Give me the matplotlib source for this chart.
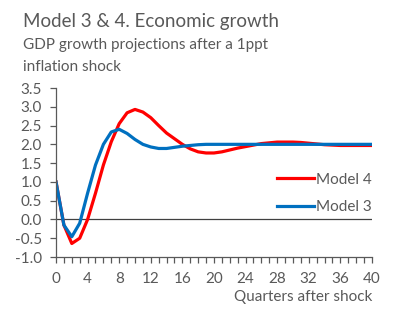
"""Model 3 & 4: GDP growth response to a 1ppt inflation shock."""
import matplotlib
matplotlib.use("Agg")
import matplotlib.pyplot as plt
import numpy as np

quarters = list(range(41))
model3 = [1.0, -0.15, -0.46, -0.1, 0.7, 1.45, 2.0, 2.33, 2.4, 2.29, 2.13,
          2.0, 1.93, 1.89, 1.89, 1.92, 1.95, 1.97, 1.99, 2.0, 2.0,
          2.0, 2.0, 2.0, 2.0, 2.0, 2.0, 2.0, 2.0, 2.0, 2.0,
          2.0, 2.0, 2.0, 2.0, 2.0, 2.0, 2.0, 2.0, 2.0, 2.0]
model4 = [1.0, -0.15, -0.64, -0.5, 0.0, 0.7, 1.45, 2.07, 2.55, 2.84, 2.93,
          2.86, 2.71, 2.5, 2.3, 2.15, 2.0, 1.88, 1.8, 1.77, 1.77,
          1.8, 1.85, 1.9, 1.94, 1.98, 2.02, 2.04, 2.06, 2.06, 2.06,
          2.05, 2.03, 2.01, 1.99, 1.98, 1.97, 1.97, 1.97, 1.97, 1.97]
yticks = np.arange(-1.0, 3.51, 0.5)
xticks = list(range(0, 41, 4))

GREY = "#595959"
plt.rcParams["font.family"] = ["Lato", "DejaVu Sans"]

fig = plt.figure(figsize=(4.05, 3.25), dpi=100)
ax = fig.add_axes([0.1383, 0.2092, 0.78, 0.52])

ax.plot(quarters, model4, color="#FF0000", lw=2.3, label="Model 4", solid_joinstyle="round")
ax.plot(quarters, model3, color="#0070C0", lw=2.3, label="Model 3", solid_joinstyle="round")
ax.axhline(0, color="#404040", lw=0.9, zorder=1)

ax.set_xlim(0, 40); ax.set_ylim(-1.0, 3.5)
ax.set_yticks(yticks)
ax.set_yticklabels([f"{v:.1f}" for v in yticks])
ax.set_xticks(xticks)
ax.set_xticks(range(41), minor=True)
for s in ["top", "right"]:
    ax.spines[s].set_visible(False)
for s in ["left", "bottom"]:
    ax.spines[s].set_color(GREY); ax.spines[s].set_linewidth(0.9)
ax.tick_params(axis="both", colors=GREY, labelsize=11, length=4, width=0.9, direction="out")
ax.tick_params(axis="x", which="minor", colors=GREY, length=4, width=0.9)
ax.tick_params(axis="y", pad=6)
ax.tick_params(axis="x", pad=7)

ax.set_xlabel("Quarters after shock", color=GREY, fontsize=11, loc="right", labelpad=3)

leg = ax.legend(loc="center right", bbox_to_anchor=(1.0, 0.376), frameon=False,
                fontsize=11, handlelength=2.4, handletextpad=0.15, labelspacing=0.9,
                borderpad=0, borderaxespad=0, labelcolor=GREY)
for h in leg.get_lines():
    h.set_linewidth(2.3)

fig.text(0.057, 0.935, "Model 3 & 4. Economic growth", fontsize=13.5, color=GREY, va="center")
fig.text(0.057, 0.86, "GDP growth projections after a 1ppt", fontsize=11, color=GREY, va="center")
fig.text(0.057, 0.795, "inflation shock", fontsize=11, color=GREY, va="center")

fig.savefig("out.png", dpi=100)
